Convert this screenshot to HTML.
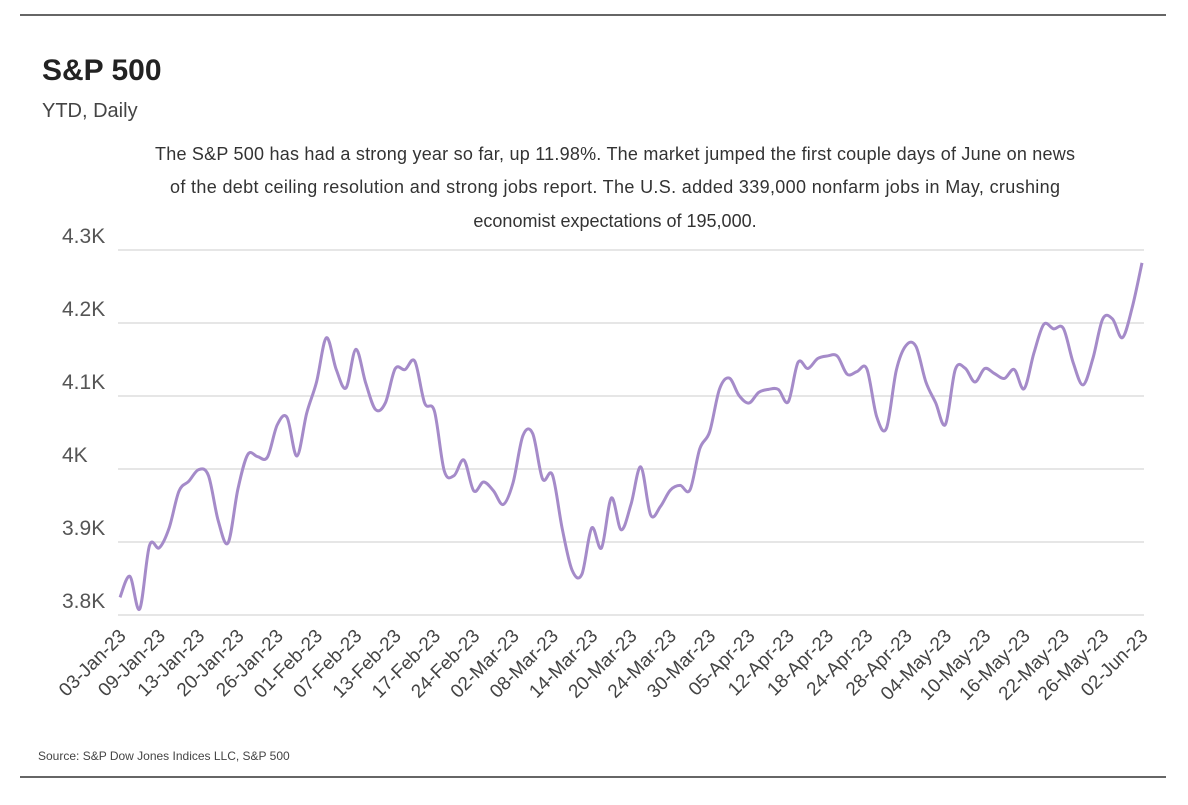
<!DOCTYPE html>
<html><head><meta charset="utf-8"><style>
body{margin:0;background:#fff;width:1188px;height:800px;overflow:hidden;font-family:"Liberation Sans",sans-serif;}
</style></head><body>
<svg width="1188" height="800" font-family="Liberation Sans, sans-serif">
<line x1="20" y1="15" x2="1166" y2="15" stroke="#333" stroke-width="1.5"/>
<line x1="20" y1="777" x2="1166" y2="777" stroke="#333" stroke-width="1.5"/>
<text x="42" y="80" font-size="30" font-weight="bold" fill="#222">S&amp;P 500</text>
<text x="42" y="117" font-size="20" fill="#444">YTD, Daily</text>
<g font-size="18" fill="#333" text-anchor="middle">
<text x="615" y="160" textLength="920">The S&amp;P 500 has had a strong year so far, up 11.98%. The market jumped the first couple days of June on news</text>
<text x="615" y="193" textLength="890">of the debt ceiling resolution and strong jobs report. The U.S. added 339,000 nonfarm jobs in May, crushing</text>
<text x="615" y="227">economist expectations of 195,000.</text>
</g>
<text x="38" y="760" font-size="12" fill="#444">Source: S&amp;P Dow Jones Indices LLC, S&amp;P 500</text>
<g id="grid"></g><g id="yticks"></g><g id="xticks"></g><g id="series"></g>
</svg>
<script>
const yTicks=[3800,3900,4000,4100,4200,4300];
const yTickLabels=["3.8K","3.9K","4K","4.1K","4.2K","4.3K"];
const xTickIdx=[0,4,8,12,16,20,24,28,32,36,40,44,48,52,56,60,64,68,72,76,80,84,88,92,96,100,104];
const xTickLabels=["03-Jan-23","09-Jan-23","13-Jan-23","20-Jan-23","26-Jan-23","01-Feb-23","07-Feb-23","13-Feb-23","17-Feb-23","24-Feb-23","02-Mar-23","08-Mar-23","14-Mar-23","20-Mar-23","24-Mar-23","30-Mar-23","05-Apr-23","12-Apr-23","18-Apr-23","24-Apr-23","28-Apr-23","04-May-23","10-May-23","16-May-23","22-May-23","26-May-23","02-Jun-23"];
const closes=[3824.14,3852.97,3808.10,3895.08,3892.09,3919.25,3969.61,3983.17,3999.09,3990.97,3928.86,3898.85,3972.61,4019.81,4016.95,4016.22,4060.43,4070.56,4017.77,4076.60,
4119.21,4179.76,4136.48,4111.08,4164.00,4117.86,4081.50,4090.46,4137.29,4136.13,4147.60,4090.41,4079.09,3997.34,3991.05,4012.32,3970.04,3982.24,3970.15,
3951.39,3981.35,4045.64,4048.42,3986.37,3992.01,3918.32,3861.59,3855.76,3919.29,3891.93,3960.28,3916.64,3951.57,4002.87,3936.97,3948.72,3970.99,3977.53,3971.27,4027.81,4050.83,4109.31,
4124.51,4100.60,4090.38,4105.02,4109.11,4108.94,4091.95,4146.22,4137.64,4151.32,4154.87,4154.52,4129.79,4133.52,4137.04,4071.63,4055.99,4135.35,4169.48,
4167.87,4119.58,4090.75,4061.22,4136.25,4138.12,4119.17,4137.64,4130.62,4124.08,4136.28,4109.90,4158.77,4198.05,4191.98,4192.63,4145.58,4115.24,4151.28,4205.45,4205.52,4179.83,
4221.02,4282.37];
const NS="http://www.w3.org/2000/svg";
const x=i=>120+i*(1142-120)/(closes.length-1);
const y=v=>615-(v-3800)*(615-250)/500;
const grid=document.getElementById('grid'),yt=document.getElementById('yticks'),xt=document.getElementById('xticks'),ser=document.getElementById('series');
yTicks.forEach((v,k)=>{
 const l=document.createElementNS(NS,'line');
 l.setAttribute('x1',118);l.setAttribute('x2',1144);l.setAttribute('y1',y(v));l.setAttribute('y2',y(v));
 l.setAttribute('stroke','#d8d8d8');l.setAttribute('stroke-width','1.2');
 
 
 grid.appendChild(l);
 const t=document.createElementNS(NS,'text');
 t.setAttribute('x',62);t.setAttribute('y',y(v)-7);t.setAttribute('font-size','21');t.setAttribute('fill','#555');
 t.textContent=yTickLabels[k];
 
 
 yt.appendChild(t);
});
xTickIdx.forEach((i,k)=>{
 const t=document.createElementNS(NS,'text');
 const px=x(i)+7,py=637;
 t.setAttribute('x',px);t.setAttribute('y',py);t.setAttribute('font-size','19');t.setAttribute('fill','#444');
 t.setAttribute('text-anchor','end');t.setAttribute('transform','rotate(-45 '+px+' '+py+')');
 t.textContent=xTickLabels[k];
 
 
 xt.appendChild(t);
});
const pts=closes.map((v,i)=>[x(i),y(v)]);
let d='M'+pts[0][0]+','+pts[0][1];
for(let i=0;i<pts.length-1;i++){
 const p0=pts[Math.max(0,i-1)],p1=pts[i],p2=pts[i+1],p3=pts[Math.min(pts.length-1,i+2)];
 const c1x=p1[0]+(p2[0]-p0[0])/6,c1y=p1[1]+(p2[1]-p0[1])/6;
 const c2x=p2[0]-(p3[0]-p1[0])/6,c2y=p2[1]-(p3[1]-p1[1])/6;
 d+=' C'+c1x+','+c1y+' '+c2x+','+c2y+' '+p2[0]+','+p2[1];
}
const path=document.createElementNS(NS,'path');
path.setAttribute('d',d);path.setAttribute('fill','none');path.setAttribute('stroke','#a58bc9');path.setAttribute('stroke-width','3');path.setAttribute('stroke-linejoin','round');


ser.appendChild(path);
</script>
</body></html>
